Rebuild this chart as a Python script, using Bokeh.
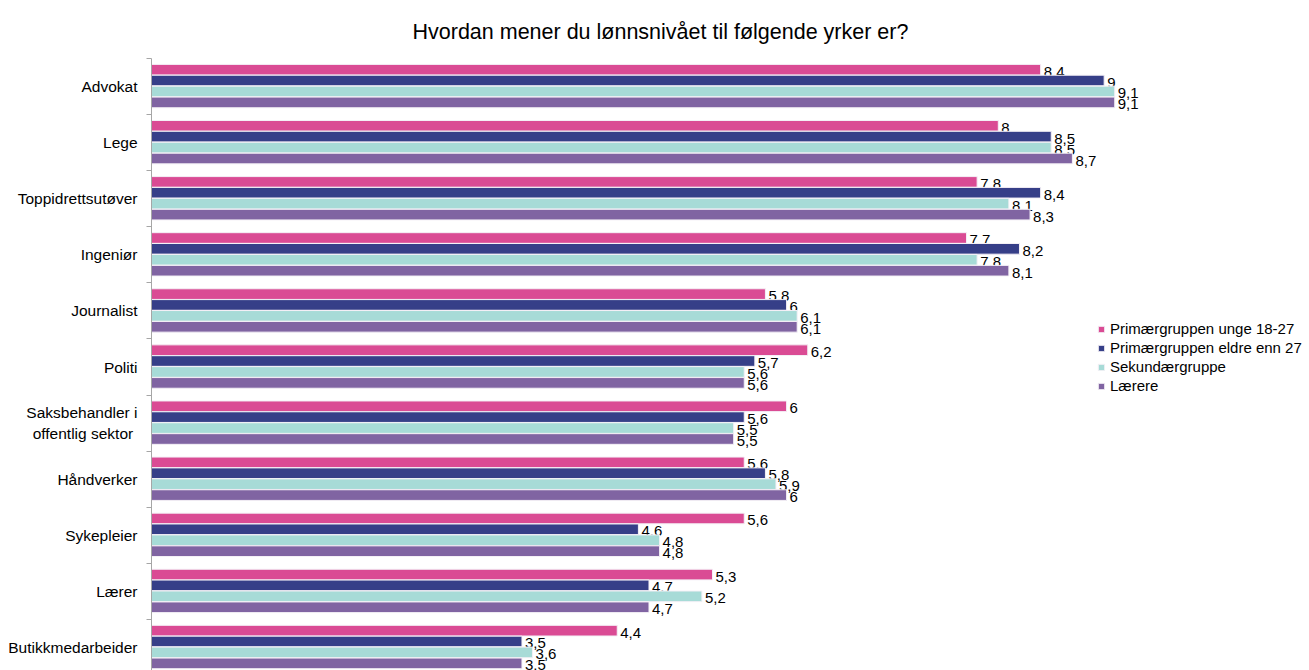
from bokeh.plotting import figure
from bokeh.models import ColumnDataSource, Range1d, FixedTicker, Legend, LegendItem, Title
from bokeh.transform import dodge
from bokeh.core.properties import value
from bokeh.embed import file_html
from bokeh.resources import INLINE

categories = ["Advokat", "Lege", "Toppidrettsutøver", "Ingeniør", "Journalist", "Politi",
              "Saksbehandler i\noffentlig sektor ", "Håndverker", "Sykepleier", "Lærer",
              "Butikkmedarbeider"]
series_names = ["Primærgruppen unge 18-27", "Primærgruppen eldre enn 27",
                "Sekundærgruppe", "Lærere"]
unge = [8.4, 8.0, 7.8, 7.7, 5.8, 6.2, 6.0, 5.6, 5.6, 5.3, 4.4]
eldre = [9.0, 8.5, 8.4, 8.2, 6.0, 5.7, 5.6, 5.8, 4.6, 4.7, 3.5]
sekundaer = [9.1, 8.5, 8.1, 7.8, 6.1, 5.6, 5.5, 5.9, 4.8, 5.2, 3.6]
laerere = [9.1, 8.7, 8.3, 8.1, 6.1, 5.6, 5.5, 6.0, 4.8, 4.7, 3.5]
colors = ["#DA4B94", "#363F88", "#A7DBD7", "#8064A2"]

FONT = "Liberation Sans"

p = figure(width=1309, height=670, output_backend="svg", toolbar_location=None,
           x_range=Range1d(0, 10.94), y_range=Range1d(10.41, -0.5),
           x_axis_location=None, min_border_left=151, min_border_right=0,
           min_border_top=58, min_border_bottom=0)
p.outline_line_color = None
p.grid.visible = False
p.title = Title(text="Hvordan mener du lønnsnivået til følgende yrker er?",
                align="left", offset=261, text_font_size="21.5px", text_font=FONT,
                text_font_style="normal", text_color="#000000", standoff=30)

idx = list(range(len(categories)))
offsets = [-0.30, -0.107, 0.088, 0.283]
all_series = [unge, eldre, sekundaer, laerere]
items = []
for name, vals, col, off in zip(series_names, all_series, colors, offsets):
    src = ColumnDataSource(dict(y=idx, v=vals,
                                lab=[f"{v:g}".replace(".", ",") for v in vals]))
    r = p.hbar(y=dodge("y", off), right="v", left=0, height=0.19, source=src,
               fill_color=col, line_color="#F4F0F6", line_width=1)
    p.text(x="v", y=dodge("y", off), text="lab", source=src, x_offset=3, y_offset=2,
           text_baseline="middle", text_align="left", text_font=value(FONT),
           text_font_size="15px", text_color="#000000")
    items.append(LegendItem(label=name, renderers=[r]))

ax = p.yaxis[0]
ax.ticker = FixedTicker(ticks=idx, minor_ticks=[i - 0.5 for i in range(len(categories) + 1)])
ax.major_label_overrides = {i: c for i, c in enumerate(categories)}
ax.major_tick_line_color = None
ax.major_tick_out = 0
ax.major_tick_in = 0
ax.minor_tick_out = 5
ax.minor_tick_in = 0
ax.minor_tick_line_color = "#A6A6A6"
ax.axis_line_color = "#A6A6A6"
ax.major_label_standoff = 9
ax.major_label_text_font = FONT
ax.major_label_text_font_size = "15.5px"
ax.major_label_text_color = "#000000"

legend = Legend(items=items, location=(946, 275), orientation="vertical",
                border_line_color=None, background_fill_alpha=0, padding=0, margin=0,
                spacing=0, glyph_width=8, glyph_height=8, label_height=19,
                label_standoff=5, label_text_font=FONT, label_text_font_size="15px",
                label_text_color="#000000")
p.add_layout(legend)

open("out.html", "w").write(file_html(p, INLINE))
